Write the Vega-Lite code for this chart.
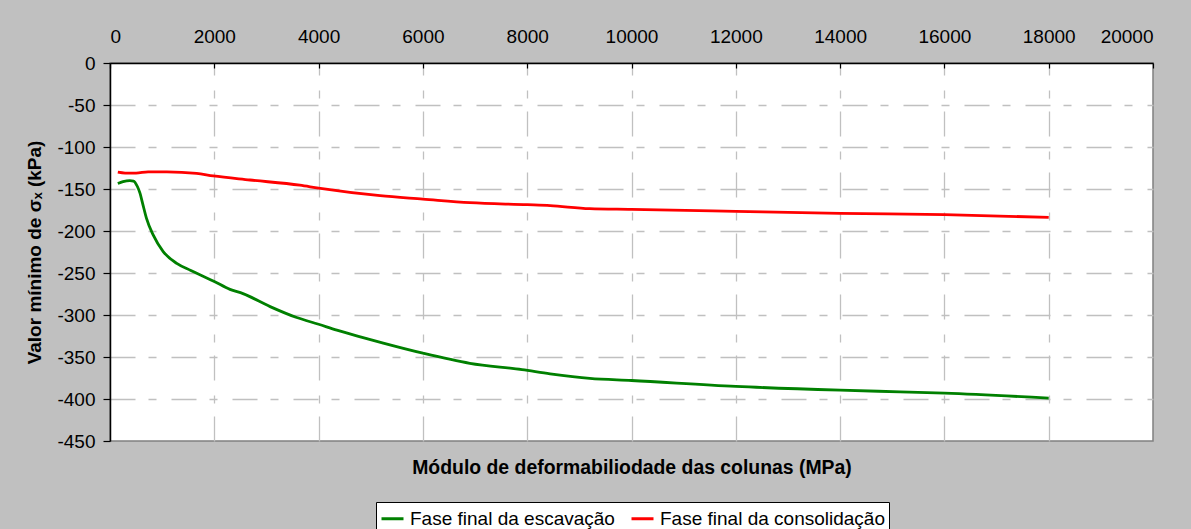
{
  "$schema": "https://vega.github.io/schema/vega-lite/v6.json",
  "width": 1043,
  "height": 378,
  "autosize": {"type": "none"},
  "padding": {"left": 110, "top": 63, "right": 38, "bottom": 88},
  "background": "#c0c0c0",
  "config": {
    "font": "Liberation Sans",
    "view": {"fill": "white", "stroke": "#808080", "strokeWidth": 1.5},
    "axis": {
      "labelFont": "Liberation Sans",
      "titleFont": "Liberation Sans",
      "labelColor": "black",
      "titleColor": "black",
      "domainColor": "black",
      "domainWidth": 1.5,
      "tickColor": "black",
      "tickWidth": 1.2,
      "gridColor": "#c0c0c0",
      "gridWidth": 1.3,
      "gridDash": [25, 13, 8, 15]
    }
  },
  "data": {
    "values": [
      {"modulo": 150, "sigma": -143.5, "fase": "Fase final da escavação"},
      {"modulo": 250, "sigma": -141.3, "fase": "Fase final da escavação"},
      {"modulo": 380, "sigma": -140, "fase": "Fase final da escavação"},
      {"modulo": 450, "sigma": -140.5, "fase": "Fase final da escavação"},
      {"modulo": 525, "sigma": -147, "fase": "Fase final da escavação"},
      {"modulo": 575, "sigma": -155, "fase": "Fase final da escavação"},
      {"modulo": 625, "sigma": -167, "fase": "Fase final da escavação"},
      {"modulo": 700, "sigma": -185, "fase": "Fase final da escavação"},
      {"modulo": 830, "sigma": -205, "fase": "Fase final da escavação"},
      {"modulo": 1020, "sigma": -224.5, "fase": "Fase final da escavação"},
      {"modulo": 1280, "sigma": -238.5, "fase": "Fase final da escavação"},
      {"modulo": 1550, "sigma": -247, "fase": "Fase final da escavação"},
      {"modulo": 2000, "sigma": -260, "fase": "Fase final da escavação"},
      {"modulo": 2300, "sigma": -269.5, "fase": "Fase final da escavação"},
      {"modulo": 2550, "sigma": -274.5, "fase": "Fase final da escavação"},
      {"modulo": 3070, "sigma": -290, "fase": "Fase final da escavação"},
      {"modulo": 3580, "sigma": -303, "fase": "Fase final da escavação"},
      {"modulo": 4000, "sigma": -311, "fase": "Fase final da escavação"},
      {"modulo": 4350, "sigma": -318, "fase": "Fase final da escavação"},
      {"modulo": 4800, "sigma": -326, "fase": "Fase final da escavação"},
      {"modulo": 5240, "sigma": -333.5, "fase": "Fase final da escavação"},
      {"modulo": 6000, "sigma": -345.5, "fase": "Fase final da escavação"},
      {"modulo": 6900, "sigma": -357.5, "fase": "Fase final da escavação"},
      {"modulo": 7900, "sigma": -365, "fase": "Fase final da escavação"},
      {"modulo": 8440, "sigma": -370, "fase": "Fase final da escavação"},
      {"modulo": 9200, "sigma": -375.5, "fase": "Fase final da escavação"},
      {"modulo": 10000, "sigma": -378, "fase": "Fase final da escavação"},
      {"modulo": 12000, "sigma": -385, "fase": "Fase final da escavação"},
      {"modulo": 14000, "sigma": -389.5, "fase": "Fase final da escavação"},
      {"modulo": 15150, "sigma": -391.5, "fase": "Fase final da escavação"},
      {"modulo": 16000, "sigma": -393, "fase": "Fase final da escavação"},
      {"modulo": 18000, "sigma": -399, "fase": "Fase final da escavação"},
      {"modulo": 150, "sigma": -130, "fase": "Fase final da consolidação"},
      {"modulo": 290, "sigma": -131, "fase": "Fase final da consolidação"},
      {"modulo": 500, "sigma": -131, "fase": "Fase final da consolidação"},
      {"modulo": 730, "sigma": -129.5, "fase": "Fase final da consolidação"},
      {"modulo": 1090, "sigma": -129.5, "fase": "Fase final da consolidação"},
      {"modulo": 1660, "sigma": -131.5, "fase": "Fase final da consolidação"},
      {"modulo": 1980, "sigma": -134.5, "fase": "Fase final da consolidação"},
      {"modulo": 2685, "sigma": -139.3, "fase": "Fase final da consolidação"},
      {"modulo": 3640, "sigma": -145.5, "fase": "Fase final da consolidação"},
      {"modulo": 4000, "sigma": -149, "fase": "Fase final da consolidação"},
      {"modulo": 5180, "sigma": -158, "fase": "Fase final da consolidação"},
      {"modulo": 6000, "sigma": -162, "fase": "Fase final da consolidação"},
      {"modulo": 6900, "sigma": -166.3, "fase": "Fase final da consolidação"},
      {"modulo": 8000, "sigma": -168.7, "fase": "Fase final da consolidação"},
      {"modulo": 8440, "sigma": -169.8, "fase": "Fase final da consolidação"},
      {"modulo": 9200, "sigma": -173.4, "fase": "Fase final da consolidação"},
      {"modulo": 10000, "sigma": -174.2, "fase": "Fase final da consolidação"},
      {"modulo": 12000, "sigma": -176.6, "fase": "Fase final da consolidação"},
      {"modulo": 14000, "sigma": -179, "fase": "Fase final da consolidação"},
      {"modulo": 16000, "sigma": -180.6, "fase": "Fase final da consolidação"},
      {"modulo": 18000, "sigma": -183.7, "fase": "Fase final da consolidação"}
    ]
  },
  "mark": {"type": "line", "strokeWidth": 2.8, "interpolate": "monotone"},
  "encoding": {
    "x": {
      "field": "modulo",
      "type": "quantitative",
      "scale": {"domain": [0, 20000], "nice": false, "zero": false},
      "axis": {
        "orient": "top",
        "title": "Módulo de deformabiliodade das colunas (MPa)",
        "titleFontSize": 19.4,
        "titleFontWeight": "bold",
        "titleY": 404,
        "titleBaseline": "middle",
        "values": [0, 2000, 4000, 6000, 8000, 10000, 12000, 14000, 16000, 18000, 20000],
        "format": "d",
        "labelFontSize": 19,
        "tickSize": -5,
        "labelPadding": 22,
        "gridOpacity": {"condition": {"test": "datum.value >= 20000 || datum.value <= 0", "value": 0}, "value": 1}
      }
    },
    "y": {
      "field": "sigma",
      "type": "quantitative",
      "scale": {"domain": [-450, 0], "nice": false, "zero": false},
      "axis": {
        "title": "Valor mínimo de σₓ (kPa)",
        "titleFontSize": 19,
        "titleFontWeight": "bold",
        "titlePadding": 12,
        "values": [0, -50, -100, -150, -200, -250, -300, -350, -400, -450],
        "labelExpr": "datum.value + ''",
        "labelFontSize": 19,
        "tickSize": 7,
        "labelPadding": 8,
        "gridOpacity": {"condition": {"test": "datum.value <= -450 || datum.value >= 0", "value": 0}, "value": 1}
      }
    },
    "color": {
      "field": "fase",
      "type": "nominal",
      "scale": {
        "domain": ["Fase final da escavação", "Fase final da consolidação"],
        "range": ["#008000", "#ff0000"]
      },
      "legend": {
        "title": null,
        "orient": "none",
        "legendX": 266,
        "legendY": 439,
        "direction": "horizontal",
        "fillColor": "white",
        "strokeColor": "black",
        "padding": 4,
        "symbolType": "stroke",
        "symbolSize": 484,
        "symbolStrokeWidth": 3,
        "labelFont": "Liberation Sans",
        "labelFontSize": 19,
        "labelColor": "black",
        "labelLimit": 400,
        "labelOffset": 5,
        "columnPadding": 10
      }
    }
  }
}
